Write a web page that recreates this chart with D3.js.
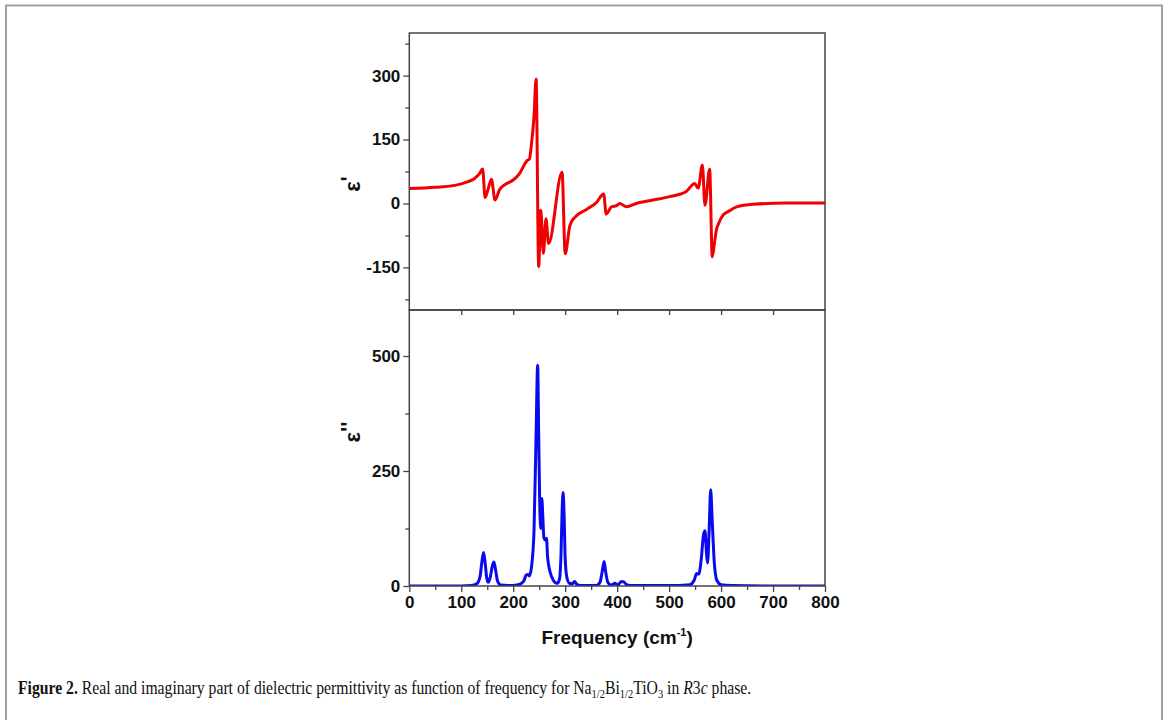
<!DOCTYPE html>
<html lang="en">

<head>
    <meta charset="UTF-8">
    <title>Dielectric permittivity</title>
    <script src="https://cdn.jsdelivr.net/npm/d3@7/dist/d3.min.js"></script>
    <style>
        body { margin: 0; background: #fff; }
        svg text { font-family: "Liberation Sans", Arial, sans-serif; }
    </style>
</head>

<body>
    <svg width="1168" height="720" id="mainsvg"></svg>
</body>
<script>
    // real part (red)
    const freqReal = [0, 50, 90, 110, 125, 135, 141, 146, 152, 158, 165, 174, 185, 200, 212, 222, 227, 231, 235, 240, 244,
        249, 253, 258, 263, 268, 294, 300, 309, 318, 341, 360, 374, 379, 389, 399, 405, 418, 437, 469, 501, 533,
        549, 556, 564, 569, 578, 583, 587, 591, 595, 604, 615, 630, 662, 726, 800]
    const epsReal = [35, 38, 43, 50, 58, 70, 81, 14, 35, 57, 8, 33, 45, 55, 70, 92, 101, 104, 138, 205, 292,
        -148, -16, -117, -36, -94, 73, -118, -52, -33, -14, 2, 22, -25, -8, -5, 0, -8, 0, 8, 16, 28,
        47, 36, 90, -4, 80, -125, -95, -62, -48, -27, -18, -8, -2, 1, 1]

    // imaginary part (blue)
    const freqImag = [0, 100, 120, 130, 136, 140, 143, 146, 149, 152, 156, 160, 163, 166, 170, 176, 190, 210, 220, 225,
        228, 231, 235, 240, 244, 247, 249, 251, 253, 255, 257, 259, 262, 264, 266, 269, 274, 280, 285, 289, 292,
        294, 296, 298, 300, 303, 308, 314, 318, 322, 330, 360, 367, 371, 375, 378, 382, 388, 396, 401, 408, 413,
        418, 430, 500, 540, 548, 553, 557, 562, 566, 569, 572, 574, 577, 580, 583, 587, 592, 600, 620, 700, 800]
    const epsImag = [0, 0, 1, 5, 20, 55, 73, 50, 18, 8, 20, 45, 52, 35, 10, 2, 1, 3, 10, 24,
        25, 22, 40, 120, 330, 480, 330, 180, 125, 190, 150, 105, 100, 104, 65, 40, 20, 8, 6, 15, 70,
        160, 203, 150, 60, 20, 6, 5, 10, 4, 1, 1, 8, 30, 53, 30, 8, 2, 6, 2, 10, 9,
        3, 1, 1, 3, 12, 27, 26, 60, 110, 120, 70, 50, 120, 209, 140, 50, 12, 3, 1, 0, 0]

    const xTicks = [0, 100, 200, 300, 400, 500, 600, 700, 800]
    const xMinor = [50, 150, 250, 350, 450, 550, 650, 750]
    const reTicks = [-150, 0, 150, 300]
    const reMinor = [-225, -75, 75, 225, 375]
    const imTicks = [0, 250, 500]
    const imMinor = [125, 375]

    const svg = d3.select('#mainsvg')
    const left = 409.3, right = 825, top1 = 33, mid = 310, bottom2 = 586
    const axisColor = '#444'

    // page frame
    svg.append('path')
        .attr('d', 'M6,720 V5.5 H1162 V720')
        .attr('fill', 'none').attr('stroke', '#a0a0a0').attr('stroke-width', 2)

    const xScale = d3.scaleLinear().domain([0, 800]).range([left, right])
    const yRe = d3.scaleLinear().domain([-250, 400]).range([mid, top1])
    const yIm = d3.scaleLinear().domain([0, 600]).range([bottom2, mid])

    const fmt = d => String(d)

    function styleAxis(sel) {
        sel.select('.domain').remove()
        sel.selectAll('.tick line').attr('stroke', axisColor).attr('stroke-width', 1.3)
        sel.selectAll('.tick text').attr('font-size', 17).attr('font-weight', 'bold')
            .attr('fill', '#111').attr('font-family', '"Liberation Sans", Arial, sans-serif')
    }

    // top panel axes
    svg.append('g').attr('transform', `translate(${left},0)`)
        .call(d3.axisLeft(yRe).tickValues(reTicks).tickFormat(fmt).tickSize(6).tickPadding(3)).call(styleAxis)
    svg.append('g').attr('transform', `translate(${left},0)`)
        .call(d3.axisLeft(yRe).tickValues(reMinor).tickFormat('').tickSize(4)).call(styleAxis)
    svg.append('g').attr('transform', `translate(0,${mid})`)
        .call(d3.axisBottom(xScale).tickValues(xTicks.slice(1, -1)).tickFormat('').tickSize(5)).call(styleAxis)

    // bottom panel axes
    svg.append('g').attr('transform', `translate(${left},0)`)
        .call(d3.axisLeft(yIm).tickValues(imTicks).tickFormat(fmt).tickSize(6).tickPadding(3)).call(styleAxis)
    svg.append('g').attr('transform', `translate(${left},0)`)
        .call(d3.axisLeft(yIm).tickValues(imMinor).tickFormat('').tickSize(4)).call(styleAxis)
    svg.append('g').attr('transform', `translate(0,${bottom2})`)
        .call(d3.axisBottom(xScale).tickValues(xTicks).tickFormat(fmt).tickSize(6).tickPadding(4)).call(styleAxis)
    svg.append('g').attr('transform', `translate(0,${bottom2})`)
        .call(d3.axisBottom(xScale).tickValues(xMinor).tickFormat('').tickSize(4)).call(styleAxis)

    // clip paths
    const defs = svg.append('defs')
    defs.append('clipPath').attr('id', 'clipTop').append('rect')
        .attr('x', left).attr('y', top1).attr('width', right - left).attr('height', mid - top1)
    defs.append('clipPath').attr('id', 'clipBot').append('rect')
        .attr('x', left).attr('y', mid).attr('width', right - left).attr('height', bottom2 - mid)

    const realData = freqReal.map((f, i) => [f, epsReal[i]])
    const imagData = freqImag.map((f, i) => [f, epsImag[i]])

    const lineRe = d3.line().x(d => xScale(d[0])).y(d => yRe(d[1])).curve(d3.curveMonotoneX)
    const lineIm = d3.line().x(d => xScale(d[0])).y(d => yIm(d[1])).curve(d3.curveMonotoneX)

    svg.append('path').datum(realData).attr('d', lineRe).attr('clip-path', 'url(#clipTop)')
        .attr('fill', 'none').attr('stroke', '#f00000').attr('stroke-width', 3).attr('stroke-linejoin', 'round')
    svg.append('path').datum(imagData).attr('d', lineIm).attr('clip-path', 'url(#clipBot)')
        .attr('fill', 'none').attr('stroke', '#0a0af0').attr('stroke-width', 3).attr('stroke-linejoin', 'round')

    // panel boxes
    svg.append('rect').attr('x', left).attr('y', top1).attr('width', right - left).attr('height', mid - top1)
        .attr('fill', 'none').attr('stroke', axisColor).attr('stroke-width', 1.5)
    svg.append('rect').attr('x', left).attr('y', mid).attr('width', right - left).attr('height', bottom2 - mid)
        .attr('fill', 'none').attr('stroke', axisColor).attr('stroke-width', 1.5)

    // axis titles
    const t1 = svg.append('text').attr('transform', 'translate(360,184) rotate(-90)')
        .attr('text-anchor', 'middle').attr('font-size', 22).attr('font-weight', 'bold').attr('fill', '#111')
    t1.append('tspan').text('ε')
    t1.append('tspan').attr('dy', -4).text("'")

    const t2 = svg.append('text').attr('transform', 'translate(360,432) rotate(-90)')
        .attr('text-anchor', 'middle').attr('font-size', 22).attr('font-weight', 'bold').attr('fill', '#111')
    t2.append('tspan').text('ε')
    t2.append('tspan').attr('dy', -4).text("''")

    const xt = svg.append('text').attr('x', (left + right) / 2).attr('y', 644)
        .attr('text-anchor', 'middle').attr('font-size', 19).attr('font-weight', 'bold').attr('fill', '#111')
    xt.append('tspan').text('Frequency (cm')
    xt.append('tspan').attr('font-size', 11).attr('dy', -8).text('-1')
    xt.append('tspan').attr('dy', 8).text(')')

    // caption
    const cap = svg.append('text').attr('x', 0).attr('y', 0)
        .attr('font-size', 18).attr('fill', '#111')
        .style('font-family', '"Liberation Serif", "Times New Roman", serif')
    cap.append('tspan').attr('font-weight', 'bold').text('Figure 2.')
    cap.append('tspan').text(' Real and imaginary part of dielectric permittivity as function of frequency for Na')
    cap.append('tspan').attr('font-size', 12).attr('dy', 4).text('1/2')
    cap.append('tspan').attr('dy', -4).text('Bi')
    cap.append('tspan').attr('font-size', 12).attr('dy', 4).text('1/2')
    cap.append('tspan').attr('dy', -4).text('TiO')
    cap.append('tspan').attr('font-size', 12).attr('dy', 4).text('3')
    cap.append('tspan').attr('dy', -4).text(' in ')
    cap.append('tspan').attr('font-style', 'italic').text('R')
    cap.append('tspan').text('3')
    cap.append('tspan').attr('font-style', 'italic').text('c')
    cap.append('tspan').text(' phase.')
    const capLen = cap.node().getComputedTextLength()
    cap.attr('transform', `translate(18,694) scale(${734 / capLen},1)`)
</script>

</html>
